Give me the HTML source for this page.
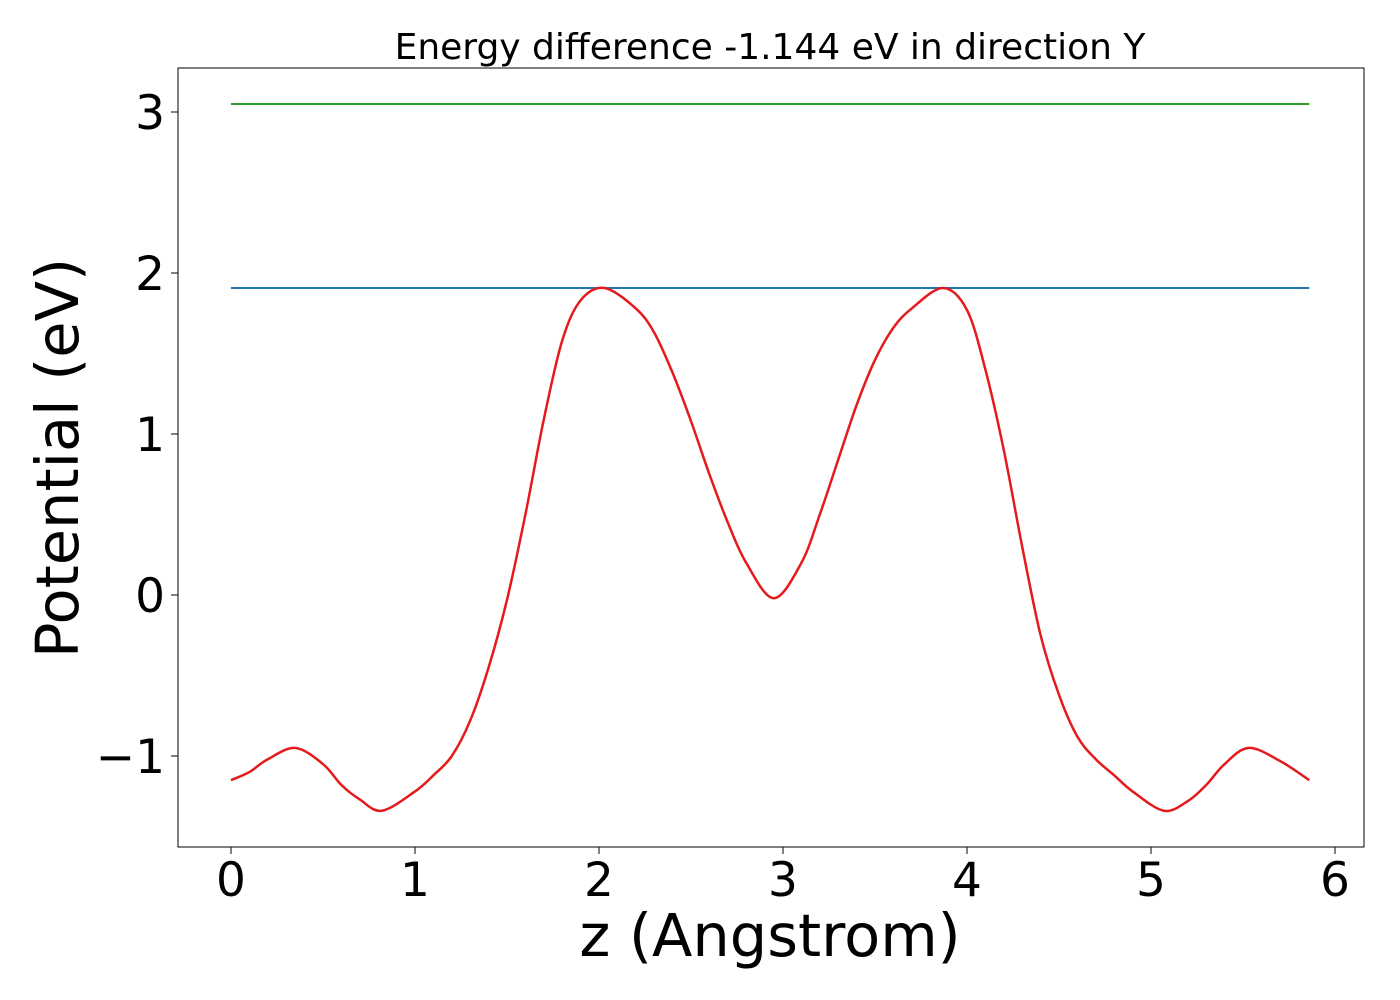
<!DOCTYPE html>
<html><head><meta charset="utf-8"><style>
html,body{margin:0;padding:0;background:#fff;}
svg{display:block;font-family:"DejaVu Sans","Liberation Sans",sans-serif;}
</style></head><body>
<svg id="chart" width="1400" height="1000">
<text x="770" y="59" font-size="36" text-anchor="middle">Energy difference -1.144 eV in direction Y</text>
<rect x="178" y="68" width="1186" height="779" fill="none" stroke="#000" stroke-width="1"/>
<g id="xticks"></g><g id="yticks"></g><g id="series"></g>
<text x="770" y="956" font-size="59" text-anchor="middle">z (Angstrom)</text>
<text transform="translate(78,458) rotate(-90)" font-size="59" text-anchor="middle">Potential (eV)</text>
</svg>
<script>
const xTicks=[0,1,2,3,4,5,6];
const yTicks=[-1,0,1,2,3];
const zVals=[0,0.1,0.2,0.35,0.5,0.6,0.7,0.82,1.0,1.1,1.2,1.3,1.4,1.5,1.6,1.7,1.8,1.9,2.03,2.2,2.3,2.4,2.5,2.6,2.7,2.8,2.95,3.1,3.2,3.3,3.4,3.5,3.6,3.7,3.87,4.0,4.1,4.2,4.3,4.4,4.5,4.6,4.7,4.8,4.9,5.07,5.2,5.3,5.4,5.53,5.7,5.86];
const potVals=[-1.15,-1.1,-1.02,-0.95,-1.05,-1.18,-1.27,-1.34,-1.22,-1.12,-1.0,-0.78,-0.45,-0.03,0.5,1.09,1.58,1.83,1.907,1.78,1.63,1.38,1.08,0.75,0.45,0.2,-0.02,0.2,0.5,0.84,1.18,1.46,1.66,1.78,1.907,1.77,1.4,0.9,0.3,-0.25,-0.62,-0.88,-1.02,-1.12,-1.22,-1.34,-1.28,-1.18,-1.05,-0.95,-1.03,-1.15];
const blueLevel=1.907, greenLevel=3.05;
const sx=v=>231+184*v, sy=v=>595-161*v;
const NS="http://www.w3.org/2000/svg";
function mk(tag,attrs,parent){const e=document.createElementNS(NS,tag);for(const k in attrs)e.setAttribute(k,attrs[k]);parent.appendChild(e);return e;}
const xg=document.getElementById('xticks'),yg=document.getElementById('yticks'),sg=document.getElementById('series');
xTicks.forEach(t=>{
 const l=mk('line',{x1:sx(t),x2:sx(t),y1:847,y2:854,stroke:'#000'},xg);
 
 
 const tx=mk('text',{x:sx(t),y:896,'font-size':47,'text-anchor':'middle'},xg);tx.textContent=t;
 
 
});
yTicks.forEach(t=>{
 const l=mk('line',{x1:171,x2:178,y1:sy(t),y2:sy(t),stroke:'#000'},yg);
 
 
 const tx=mk('text',{x:165,y:sy(t)+17,'font-size':47,'text-anchor':'end'},yg);tx.textContent=(t<0?'\u2212':'')+Math.abs(t);
 
 
});
const x0=sx(zVals[0]),x1=sx(zVals[zVals.length-1]);
const g=mk('line',{x1:x0,x2:x1,y1:sy(greenLevel),y2:sy(greenLevel),stroke:'#2ca02c','stroke-width':2},sg);


const b=mk('line',{x1:x0,x2:x1,y1:sy(blueLevel),y2:sy(blueLevel),stroke:'#1f77b4','stroke-width':2},sg);


const P=zVals.map((z,i)=>[sx(z),sy(potVals[i])]);
let d='M'+P[0][0]+','+P[0][1];
for(let i=0;i<P.length-1;i++){const p0=P[Math.max(0,i-1)],p1=P[i],p2=P[i+1],p3=P[Math.min(P.length-1,i+2)];
 d+=' C'+(p1[0]+(p2[0]-p0[0])/6)+','+(p1[1]+(p2[1]-p0[1])/6)+' '+(p2[0]-(p3[0]-p1[0])/6)+','+(p2[1]-(p3[1]-p1[1])/6)+' '+p2[0]+','+p2[1];}
const c=mk('path',{d:d,fill:'none',stroke:'#e41a1c','stroke-width':2.5},sg);


</script>
</body></html>
